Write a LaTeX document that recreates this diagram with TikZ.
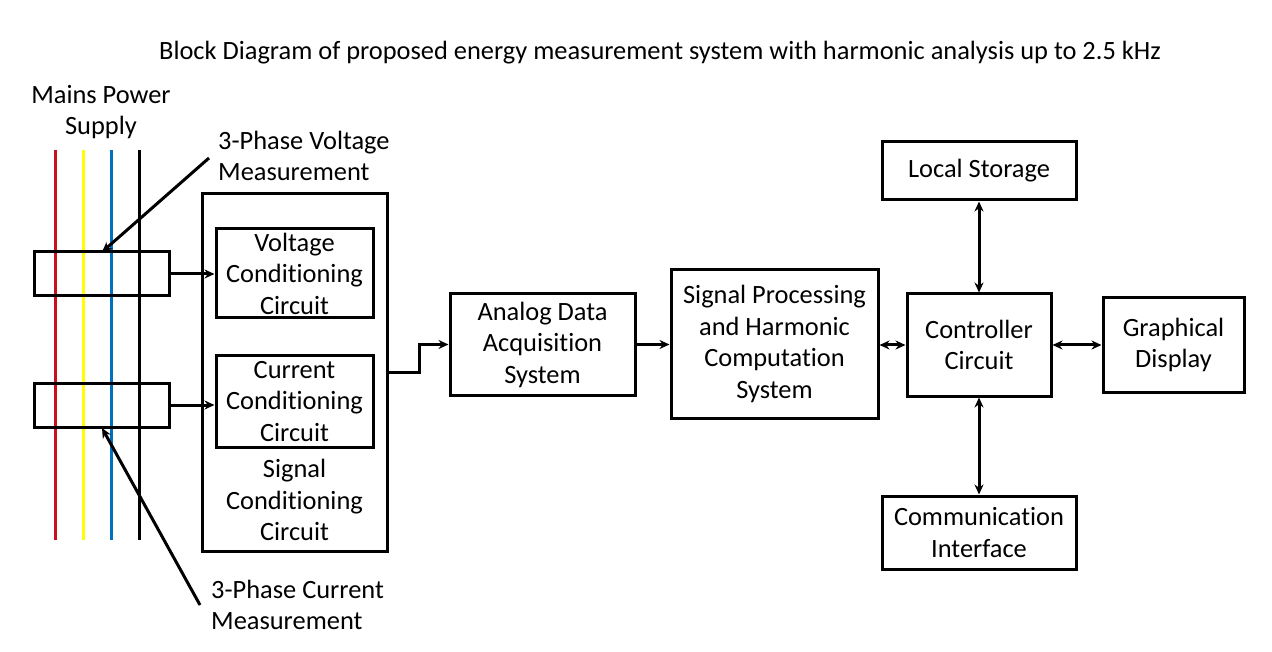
\documentclass[tikz,border=0pt]{standalone}
\usepackage{fontspec}
\setmainfont{Carlito}[Ligatures={NoCommon}]
\usetikzlibrary{arrows.meta,positioning}
\definecolor{wred}{RGB}{200,16,30}
\definecolor{wyel}{RGB}{255,255,0}
\definecolor{wblu}{RGB}{0,112,192}
\begin{document}
\begin{tikzpicture}[x=1pt,y=-1pt,
  every node/.style={font=\fontsize{26.4}{31.5}\selectfont},
  blk/.style={draw,line width=3pt,align=center,inner sep=0pt},
  lbl/.style={align=center,inner sep=0pt},
  arr/.style={line width=3pt,-{Stealth[length=10pt,width=9pt]}},
  darr/.style={line width=3pt,{Stealth[length=10pt,width=9pt]}-{Stealth[length=10pt,width=9pt]}},
  wire/.style={line width=3pt}]
\path[use as bounding box] (0,0) rectangle (1272,652);
% title
\node[lbl] (title) at (660,53) {Block Diagram of proposed energy measurement system with harmonic analysis up to 2.5 kHz};
% mains
\node[lbl] (mains) at (101,112) {Mains Power\\Supply};
\draw[wire,wred] (55,150) -- (55,540);
\draw[wire,wyel] (83,150) -- (83,540);
\draw[wire,wblu] (111,150) -- (111,540);
\draw[wire,black] (139,150) -- (139,540);
% sensors
\node[blk,minimum width=135,minimum height=44] (vs) at (101.5,274) {};
\node[blk,minimum width=135,minimum height=44] (cs) at (101.5,405) {};
% signal conditioning
\node[blk,minimum width=185,minimum height=357] (scc) at (294.5,372.5) {};
\node[blk,minimum width=157,minimum height=89] (vcc) at (294.5,273.5) {Voltage\\Conditioning\\Circuit};
\node[blk,minimum width=157,minimum height=91] (ccc) at (294.5,401.5) {Current\\Conditioning\\Circuit};
\node[lbl] (scctext) at (294.5,500) {Signal\\Conditioning\\Circuit};
% labels
\node[lbl,anchor=west,align=left] (vlab) at (218,156) {3-Phase Voltage\\Measurement};
\node[lbl,anchor=west,align=left] (clab) at (211,605) {3-Phase Current\\Measurement};
\coordinate (vstart) at (209,158);
\coordinate (vtip) at (102,252);
\coordinate (cstart) at (200,605);
\coordinate (ctip) at (102,428);
\draw[arr] (vstart) -- (vtip);
\draw[arr] (cstart) -- (ctip);
% main chain
\node[blk,minimum width=185,minimum height=101] (adc) at (542.5,344.5) {Analog Data\\Acquisition\\System};
\node[blk,minimum width=207,minimum height=148] (dsp) at (774.5,344) {Signal Processing\\and Harmonic\\Computation\\System};
\node[blk,minimum width=144,minimum height=102] (ctrl) at (979,345) {Controller\\Circuit};
\node[blk,minimum width=141,minimum height=94] (disp) at (1173.5,345) {Graphical\\Display};
\node[blk,minimum width=194,minimum height=58] (stor) at (979,171) {Local Storage};
\node[blk,minimum width=194,minimum height=73] (comm) at (979,532.5) {Communication\\Interface};
% connectors
\draw[arr] (vs.east) -- (vs.east -| vcc.west);
\draw[arr] (cs.east) -- (cs.east -| ccc.west);
\draw[arr] (scc.east) -- ++(31,0) |- (adc.west);
\draw[arr] (adc.east) -- (dsp.west |- adc.east);
\draw[darr] (dsp.east |- ctrl.west) -- (ctrl.west);
\draw[darr] (ctrl.east) -- (disp.west);
\draw[darr] (stor.south) -- (ctrl.north);
\draw[darr] (ctrl.south) -- (comm.north);
\end{tikzpicture}
\end{document}
